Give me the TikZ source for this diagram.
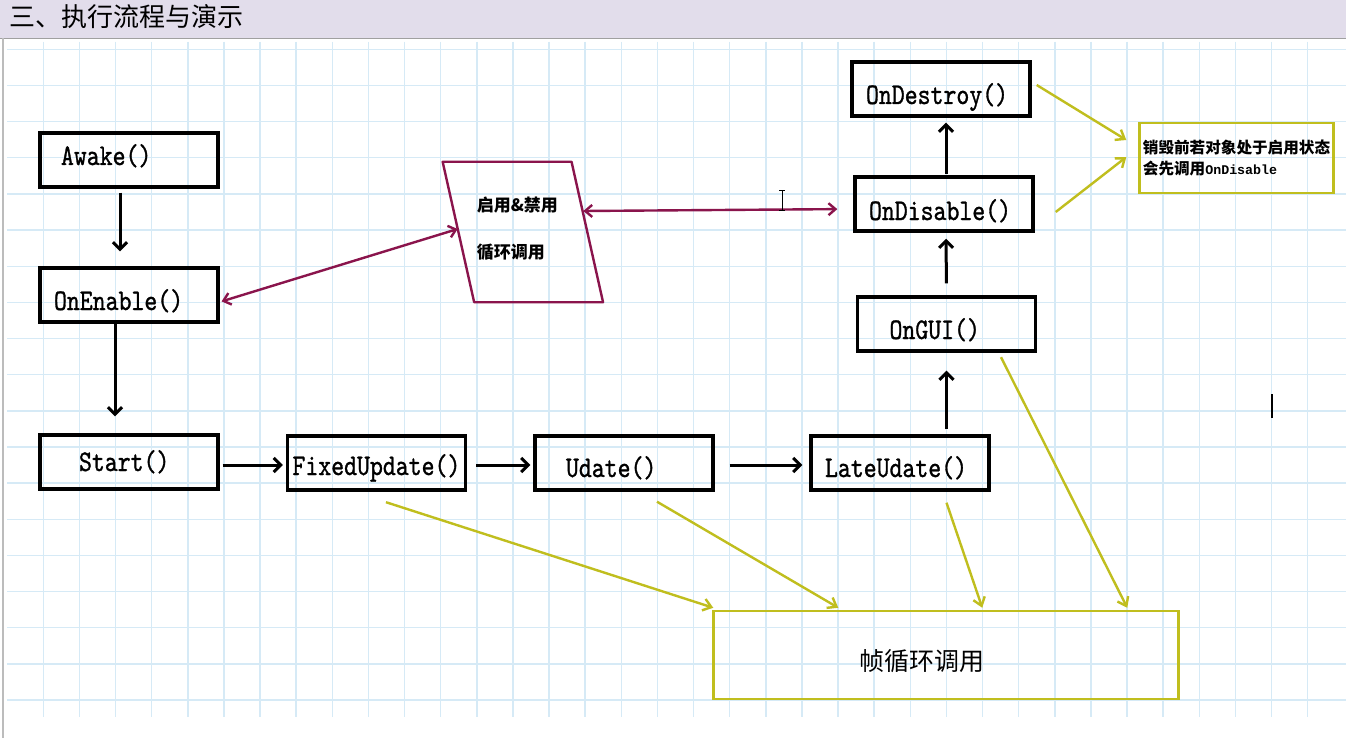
\documentclass[tikz,border=0pt]{standalone}
\usepackage{fontspec}
\usetikzlibrary{arrows.meta}

\newfontfamily\cjk{Noto Sans CJK SC}
\newfontfamily\fnfont[FakeStretch=0.82, FakeBold=1]{lmmono10-regular.otf}
\newfontfamily\codefont{Liberation Mono}

\definecolor{gridblue}{RGB}{214,234,246}
\definecolor{titlebg}{RGB}{226,221,235}
\definecolor{framegray}{RGB}{160,160,160}
\definecolor{togglered}{RGB}{138,20,76}
\definecolor{loopyellow}{RGB}{192,190,30}

\begin{document}
\begin{tikzpicture}[
		x=1pt, y=-1pt,
		fn/.style={draw, line width=3.4pt, minimum height=54pt, text width=170pt, inner xsep=4pt, inner ysep=1pt,
			text depth=8pt, text height=26pt, align=left, font=\fnfont\fontsize{30}{32}\selectfont,
			execute at begin node={\hyphenpenalty=10000\hspace*{#1}}},
		fn/.default=0pt,
		yellowbox/.style={draw=loopyellow, line width=2.5pt},
		arrow/.style={-{Straight Barb[length=7pt, width=14pt]}, line width=3pt},
		toggle arrow/.style={{Straight Barb[length=7pt, width=12pt]}-{Straight Barb[length=7pt, width=12pt]}, draw=togglered, line width=2.4pt},
		loop arrow/.style={-{Straight Barb[length=8pt, width=12pt]}, draw=loopyellow, line width=2.4pt},
		gridline/.style={draw=gridblue, line width=1.4pt}
	]
	\useasboundingbox (0,0) rectangle (1346,738);

		% Page
		\fill[white] (0,0) rectangle (1346,738);
		\foreach \i in {0,...,35}
			\draw[gridline] (43.3+36.125*\i,42) -- ++(0,675);
		\foreach \j in {0,...,18}
			\draw[gridline] (7,49.3+36.15*\j) -- ++(1339,0);
		\fill[titlebg] (0,0) rectangle (1346,38);
		\draw[framegray, line width=1.5pt] (0,38.5) -- (1346,38.5);
		\draw[framegray!70, line width=2pt] (3,38.5) -- (3,738);
		\node[font=\cjk\fontsize{26}{26}\selectfont, anchor=west, inner sep=0pt] (title) at (9,17) {三、执行流程与演示};

		% Nodes
		\node[fn=17pt, text height=18pt] (awake) at (129,160) {Awake()};
		\node[fn=10pt, text height=38pt] (onenable) at (129,295) {OnEnable()};
		\node[fn=35pt] (start) at (129,462) {Start()};
		\node[fn=1pt, text height=32pt] (fixed) at (376.5,463) {FixedUpdate()};
		\node[fn=27pt, text height=36pt] (udate) at (624,463) {Udate()};
		\node[fn=10pt, text height=36pt] (lateudate) at (900,463) {LateUdate()};
		\node[fn=28pt, text height=38pt] (ongui) at (946.5,324) {OnGUI()};
		\node[fn=10pt, text height=40pt] (ondisable) at (944,204) {OnDisable()};
		\node[fn=10pt, text height=38pt] (ondestroy) at (941,89) {OnDestroy()};
		\node[minimum height=140pt, text width=92pt, inner xsep=34pt, align=left, text depth=55pt,
			font=\cjk\bfseries\fontsize{17}{47}\selectfont] (toggle) at (522.85,232) {启用\&禁用\\循环调用};
		\draw[togglered, line width=2.4pt, line join=round] (toggle.north west) -- ([xshift=-31.5pt]toggle.north east)
			-- (toggle.south east) -- ([xshift=31.5pt]toggle.south west) -- cycle;
		\node[yellowbox, minimum width=192pt, minimum height=70pt, align=left,
			font=\cjk\bfseries\fontsize{15.6}{21}\selectfont] (note) at (1236.5,158)
			{销毁前若对象处于启用状态\\会先调用{\codefont\fontsize{13.3}{21}\selectfont OnDisable}};
		\node[yellowbox, minimum height=88pt, text width=173.5pt, inner xsep=145.75pt, align=left,
			text depth=0pt, text height=31pt, font=\cjk\fontsize{25}{25}\selectfont] (frameloop) at (946,655) {帧循环调用};

		% Arrows
		\draw[arrow, shorten <=4pt, shorten >=15pt] ([xshift=-9pt]awake.south) -- ([xshift=-9pt]onenable.north);
		\draw[arrow, shorten >=17pt] ([xshift=-14pt]onenable.south) -- ([xshift=-14pt]start.north);
		\draw[arrow, shorten <=3pt, shorten >=3pt] ([yshift=-3pt]start.east) -- ([yshift=-2pt]fixed.west);
		\draw[arrow, shorten <=9pt, shorten >=3pt] ([yshift=-2pt]fixed.east) -- ([yshift=-2pt]udate.west);
		\draw[arrow, shorten <=15pt, shorten >=7pt] ([yshift=-2pt]udate.east) -- ([yshift=-2pt]lateudate.west);
		\draw[arrow, shorten <=5pt, shorten >=18pt] ([xshift=46.5pt]lateudate.north) -- (ongui.south);
		\draw[arrow, shorten <=12pt, shorten >=6pt] (ongui.north) -- ([xshift=2pt]ondisable.south);
		\draw[arrow, shorten <=1pt, shorten >=5pt] ([xshift=2pt]ondisable.north) -- ([xshift=5pt]ondestroy.south);

		\draw[toggle arrow, shorten <=2pt] ([yshift=-7pt]onenable.east) -- ([shift={(15pt,3pt)}]toggle.west);
		\draw[toggle arrow, shorten >=16pt] ([shift={(-19.7pt,21pt)}]toggle.east) -- ([yshift=-5pt]ondisable.west);

		\draw[loop arrow] ([shift={(5pt,4pt)}]ondestroy.east) -- ([shift={(-12pt,18pt)}]note.west);
		\draw[loop arrow] ([shift={(21pt,-8pt)}]ondisable.east) -- ([shift={(-12pt,1pt)}]note.west);
		\draw[loop arrow] ([shift={(9.5pt,-10.5pt)}]fixed.south) -- ([shift={(1pt,2pt)}]frameloop.north west);
		\draw[loop arrow] ([shift={(33pt,-10pt)}]udate.south) -- ([shift={(126pt,2pt)}]frameloop.north west);
		\draw[loop arrow] ([shift={(46.5pt,-11pt)}]lateudate.south) -- ([shift={(270pt,2pt)}]frameloop.north west);
		\draw[loop arrow] ([shift={(54.5pt,-4.5pt)}]ongui.south) -- ([shift={(415pt,2pt)}]frameloop.north west);

		% Cursor marks
		\draw[line width=1pt] (782,191) -- (782,211) (779,191) -- (785,191) (779,211) -- (785,211);
		\draw[line width=1.2pt] (1272,394) -- (1272,418);

	\end{tikzpicture}
\end{document}
